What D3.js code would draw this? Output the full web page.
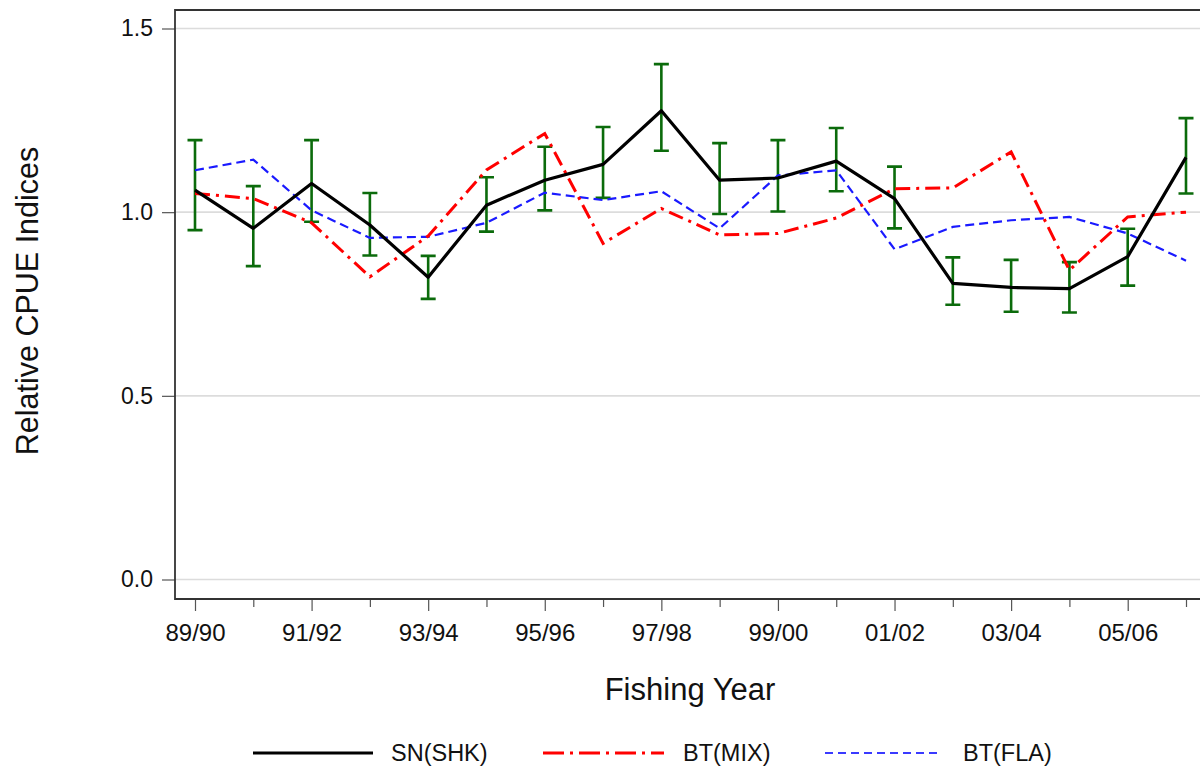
<!DOCTYPE html>
<html>
<head>
<meta charset="utf-8">
<script src="https://cdn.jsdelivr.net/npm/d3@7"></script>
<style>
  html, body { margin: 0; padding: 0; background: #fff; }
  svg { display: block; font-family: "Liberation Sans", Arial, Helvetica, sans-serif; }
</style>
</head>
<body>
<svg id="chart" width="1200" height="767"></svg>
<script>
// ---- data ----
const years = ["89/90","90/91","91/92","92/93","93/94","94/95","95/96","96/97","97/98",
               "98/99","99/00","00/01","01/02","02/03","03/04","04/05","05/06","06/07"];
const labeledYears = ["89/90","91/92","93/94","95/96","97/98","99/00","01/02","03/04","05/06"];
const snShk  = [1.060,0.956,1.078,0.965,0.823,1.019,1.087,1.130,1.276,1.087,1.093,1.139,1.037,0.806,0.795,0.792,0.879,1.149];
const snLow  = [0.951,0.853,0.974,0.882,0.764,0.947,1.005,1.039,1.167,0.995,1.002,1.057,0.956,0.748,0.729,0.727,0.800,1.051];
const snHigh = [1.196,1.071,1.196,1.052,0.881,1.095,1.178,1.232,1.403,1.188,1.196,1.229,1.124,0.877,0.870,0.864,0.955,1.256];
const btMix  = [1.051,1.037,0.971,0.824,0.935,1.115,1.214,0.915,1.010,0.938,0.942,0.984,1.064,1.066,1.164,0.842,0.987,1.000];
const btFla  = [1.114,1.143,1.005,0.930,0.933,0.971,1.053,1.033,1.057,0.956,1.100,1.114,0.899,0.960,0.978,0.987,0.942,0.868];
const yTicks = [0.0, 0.5, 1.0, 1.5];
const seriesNames = ["SN(SHK)", "BT(MIX)", "BT(FLA)"];

// ---- layout ----
const svg = d3.select("#chart");
const pLeft = 175, pRight = 1206, pTop = 10, pBottom = 599;

const x = d3.scalePoint().domain(years).range([195, 1186]);
const y = d3.scaleLinear().domain([0, 1.5]).range([579.5, 28.5]);

// gridlines
svg.append("g").selectAll("line").data(yTicks).join("line")
  .attr("x1", pLeft).attr("x2", pRight)
  .attr("y1", d => y(d)).attr("y2", d => y(d))
  .attr("stroke", "#dcdcdc").attr("stroke-width", 1.6);

// y axis ticks + labels
const yAxis = d3.axisLeft(y).tickValues(yTicks).tickFormat(d3.format(".1f"))
  .tickSize(13).tickPadding(9);
const gy = svg.append("g").attr("transform", `translate(${pLeft},0)`).call(yAxis);
gy.select(".domain").remove();
gy.selectAll(".tick line").attr("stroke", "#555").attr("stroke-width", 1.2);
gy.selectAll(".tick text").attr("font-size", 23).attr("fill", "#111")
  .attr("font-family", "Liberation Sans, Arial, sans-serif");

// x axis ticks (major labelled / minor)
const xAxis = d3.axisBottom(x).tickValues(years)
  .tickFormat(d => labeledYears.includes(d) ? d : "")
  .tickSize(0).tickPadding(0);
const gx = svg.append("g").attr("transform", `translate(0,${pBottom})`).call(xAxis);
gx.select(".domain").remove();
gx.selectAll(".tick").append("line")
  .attr("y1", 0)
  .attr("y2", d => labeledYears.includes(d) ? 12 : 8)
  .attr("stroke", "#555").attr("stroke-width", 1.2);
gx.selectAll(".tick text").attr("font-size", 24).attr("fill", "#111")
  .attr("dy", null).attr("y", 42)
  .attr("font-family", "Liberation Sans, Arial, sans-serif");

// frame
svg.append("path")
  .attr("d", `M${pRight},${pTop}H${pLeft}V${pBottom}H${pRight}`)
  .attr("fill", "none").attr("stroke", "#333").attr("stroke-width", 1.8);

// error bars
const eb = svg.append("g").attr("stroke", "#0b6b0b").attr("stroke-width", 2.6).attr("fill", "none");
eb.selectAll("path").data(years).join("path")
  .attr("d", (d, i) => {
    const cx = x(d), yl = y(snLow[i]), yh = y(snHigh[i]);
    return `M${cx - 7.5},${yh}H${cx + 7.5}M${cx},${yh}V${yl}M${cx - 7.5},${yl}H${cx + 7.5}`;
  });

const line = vals => d3.line().x((d, i) => x(years[i])).y(d => y(d))(vals);

// series lines
svg.append("path").attr("d", line(btFla)).attr("fill", "none")
  .attr("stroke", "#1a1aff").attr("stroke-width", 2.2).attr("stroke-dasharray", "9,5");
svg.append("path").attr("d", line(btMix)).attr("fill", "none")
  .attr("stroke", "#ff0000").attr("stroke-width", 3).attr("stroke-dasharray", "15,6,3,6");
svg.append("path").attr("d", line(snShk)).attr("fill", "none")
  .attr("stroke", "#000").attr("stroke-width", 3.2).attr("stroke-linejoin", "round");

// axis titles
svg.append("text").attr("x", 690).attr("y", 700).attr("text-anchor", "middle")
  .attr("font-size", 31).attr("fill", "#111").text("Fishing Year");
svg.append("text").attr("transform", "translate(38,301) rotate(-90)")
  .attr("text-anchor", "middle").attr("font-size", 30.5).attr("fill", "#111")
  .text("Relative CPUE Indices");

// legend
const legend = [
  {name: seriesNames[0], x1: 253, x2: 373, tx: 391, stroke: "#000", w: 3, dash: null},
  {name: seriesNames[1], x1: 543, x2: 664, tx: 683, stroke: "#ff0000", w: 3, dash: "21,6,3,6"},
  {name: seriesNames[2], x1: 825, x2: 941, tx: 963, stroke: "#3a3aff", w: 2, dash: "8,5"}
];
const lg = svg.append("g");
lg.selectAll("line").data(legend).join("line")
  .attr("x1", d => d.x1).attr("x2", d => d.x2).attr("y1", 753).attr("y2", 753)
  .attr("stroke", d => d.stroke).attr("stroke-width", d => d.w)
  .attr("stroke-dasharray", d => d.dash);
lg.selectAll("text").data(legend).join("text")
  .attr("x", d => d.tx).attr("y", 761).attr("font-size", 23.5).attr("fill", "#111")
  .text(d => d.name);
</script>
</body>
</html>
